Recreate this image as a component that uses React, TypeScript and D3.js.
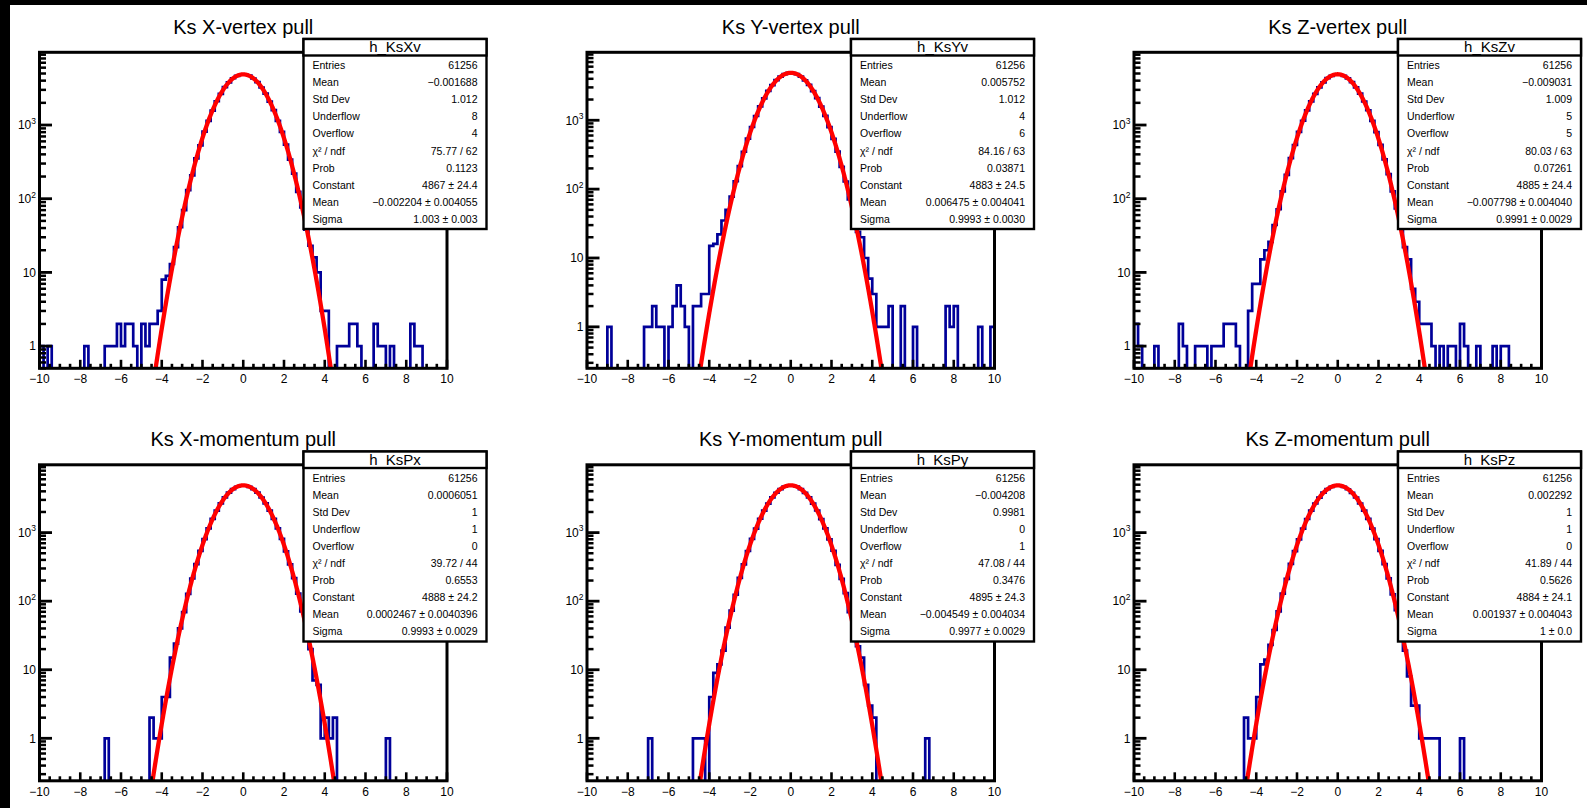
import React from "react";
import * as d3 from "d3";

// ---------- data ----------
const X_DOMAIN: [number, number] = [-10, 10];
const N_BINS = 100;

const titles = [
  "Ks X-vertex pull",
  "Ks Y-vertex pull",
  "Ks Z-vertex pull",
  "Ks X-momentum pull",
  "Ks Y-momentum pull",
  "Ks Z-momentum pull",
];
const histNames = ["h_KsXv", "h_KsYv", "h_KsZv", "h_KsPx", "h_KsPy", "h_KsPz"];

// bin contents, 100 bins of width 0.2 from -10 to 10
const countsKsXv = [
  1, 0, 1, 0, 0, 0, 0, 0, 0, 0,
  0, 1, 0, 0, 0, 0, 1, 1, 1, 2,
  1, 2, 2, 1, 0, 2, 1, 2, 2, 3,
  8, 9, 13, 22, 41, 70, 131, 208, 352, 530,
  812, 1139, 1571, 2103, 2641, 3262, 3790, 4310, 4640, 4861,
  4822, 4667, 4281, 3826, 3229, 2672, 2078, 1592, 1135, 806,
  541, 339, 219, 124, 76, 38, 23, 16, 10, 3,
  3, 0, 0, 1, 1, 1, 2, 2, 1, 0,
  0, 0, 2, 1, 1, 0, 1, 0, 0, 0,
  0, 2, 1, 1, 0, 0, 0, 0, 0, 0,
];
const countsKsYv = [
  0, 0, 0, 0, 0, 1, 0, 0, 0, 0,
  0, 0, 0, 0, 1, 1, 2, 1, 1, 0,
  1, 2, 4, 2, 1, 0, 2, 2, 3, 3,
  15, 16, 22, 35, 50, 78, 130, 215, 349, 541,
  798, 1152, 1588, 2085, 2667, 3238, 3822, 4301, 4671, 4874,
  4853, 4660, 4302, 3797, 3257, 2649, 2097, 1575, 1158, 793,
  536, 351, 210, 129, 71, 43, 24, 20, 10, 5,
  3, 1, 1, 1, 2, 0, 0, 2, 0, 0,
  1, 0, 0, 0, 0, 0, 0, 0, 2, 1,
  2, 0, 0, 0, 0, 0, 1, 0, 0, 1,
];
const countsKsZv = [
  2, 1, 0, 0, 0, 1, 0, 0, 0, 0,
  0, 2, 1, 0, 0, 1, 1, 1, 0, 1,
  1, 1, 2, 2, 2, 1, 0, 0, 3, 7,
  7, 15, 20, 26, 44, 72, 126, 211, 356, 536,
  805, 1143, 1582, 2095, 2650, 3251, 3801, 4317, 4655, 4870,
  4838, 4648, 4289, 3817, 3236, 2661, 2085, 1586, 1141, 799,
  538, 342, 215, 126, 74, 41, 22, 15, 6, 4,
  2, 2, 2, 1, 0, 1, 0, 1, 1, 0,
  2, 1, 0, 0, 1, 0, 0, 0, 1, 0,
  1, 1, 0, 0, 0, 0, 0, 0, 0, 0,
];
const countsKsPx = [
  0, 0, 0, 0, 0, 0, 0, 0, 0, 0,
  0, 0, 0, 0, 0, 0, 1, 0, 0, 0,
  0, 0, 0, 0, 0, 0, 0, 2, 1, 1,
  4, 4, 15, 24, 40, 69, 128, 214, 348, 543,
  801, 1150, 1586, 2099, 2668, 3256, 3829, 4318, 4668, 4851,
  4877, 4655, 4309, 3820, 3249, 2671, 2094, 1589, 1149, 808,
  531, 344, 217, 129, 71, 39, 20, 7, 6, 1,
  2, 1, 2, 0, 0, 0, 0, 0, 0, 0,
  0, 0, 0, 0, 0, 1, 0, 0, 0, 0,
  0, 0, 0, 0, 0, 0, 0, 0, 0, 0,
];
const countsKsPy = [
  0, 0, 0, 0, 0, 0, 0, 0, 0, 0,
  0, 0, 0, 0, 0, 1, 0, 0, 0, 0,
  0, 0, 0, 0, 0, 0, 1, 1, 1, 0,
  4, 9, 12, 19, 41, 73, 124, 219, 343, 539,
  809, 1141, 1594, 2088, 2655, 3268, 3811, 4322, 4679, 4880,
  4862, 4674, 4296, 3808, 3262, 2653, 2102, 1577, 1153, 796,
  544, 338, 212, 131, 69, 43, 22, 15, 6, 3,
  2, 0, 0, 0, 0, 0, 0, 0, 0, 0,
  0, 0, 0, 1, 0, 0, 0, 0, 0, 0,
  0, 0, 0, 0, 0, 0, 0, 0, 0, 0,
];
const countsKsPz = [
  0, 0, 0, 0, 0, 0, 0, 0, 0, 0,
  0, 0, 0, 0, 0, 0, 0, 0, 0, 0,
  0, 0, 0, 0, 0, 0, 0, 2, 1, 1,
  4, 12, 14, 23, 38, 71, 129, 212, 351, 538,
  796, 1147, 1579, 2094, 2660, 3244, 3818, 4306, 4650, 4869,
  4858, 4642, 4291, 3803, 3251, 2660, 2089, 1583, 1144, 802,
  540, 347, 215, 126, 74, 40, 19, 8, 3, 3,
  1, 1, 1, 1, 1, 0, 0, 0, 0, 0,
  1, 0, 0, 0, 0, 0, 0, 0, 0, 0,
  0, 0, 0, 0, 0, 0, 0, 0, 0, 0,
];
const allCounts = [countsKsXv, countsKsYv, countsKsZv, countsKsPx, countsKsPy, countsKsPz];

const statLabels = [
  "Entries", "Mean", "Std Dev", "Underflow", "Overflow",
  "χ² / ndf", "Prob", "Constant", "Mean", "Sigma",
];
const statsKsXv = ["61256", "−0.001688", "1.012", "8", "4", "75.77 / 62", "0.1123", "4867 ± 24.4", "−0.002204 ± 0.004055", "1.003 ± 0.003"];
const statsKsYv = ["61256", "0.005752", "1.012", "4", "6", "84.16 / 63", "0.03871", "4883 ± 24.5", "0.006475 ± 0.004041", "0.9993 ± 0.0030"];
const statsKsZv = ["61256", "−0.009031", "1.009", "5", "5", "80.03 / 63", "0.07261", "4885 ± 24.4", "−0.007798 ± 0.004040", "0.9991 ± 0.0029"];
const statsKsPx = ["61256", "0.0006051", "1", "1", "0", "39.72 / 44", "0.6553", "4888 ± 24.2", "0.0002467 ± 0.0040396", "0.9993 ± 0.0029"];
const statsKsPy = ["61256", "−0.004208", "0.9981", "0", "1", "47.08 / 44", "0.3476", "4895 ± 24.3", "−0.004549 ± 0.004034", "0.9977 ± 0.0029"];
const statsKsPz = ["61256", "0.002292", "1", "1", "0", "41.89 / 44", "0.5626", "4884 ± 24.1", "0.001937 ± 0.004043", "1 ± 0.0"];
const allStats = [statsKsXv, statsKsYv, statsKsZv, statsKsPx, statsKsPy, statsKsPz];

const fitConstant = [4867, 4883, 4885, 4888, 4895, 4884];
const fitMean = [-0.002204, 0.006475, -0.007798, 0.0002467, -0.004549, 0.001937];
const fitSigma = [1.003, 0.9993, 0.9991, 0.9993, 0.9977, 1.0];

const yMin = [0.5, 0.25, 0.5, 0.24, 0.24, 0.24];
const yMax = [9700, 9700, 9700, 9750, 9750, 9750];

const xMajorTicks = [-10, -8, -6, -4, -2, 0, 2, 4, 6, 8, 10];
const xTickLabels = ["−10", "−8", "−6", "−4", "−2", "0", "2", "4", "6", "8", "10"];
const yDecades = [1, 10, 100, 1000];
const yDecadeBase = ["1", "10", "10", "10"];
const yDecadeExp = ["", "", "2", "3"];

// ---------- layout ----------
const panelOffsetX = [0, 547.5, 1094.5];
const panelOffsetY = [0, 412.5];
const FRAME = { left: 39.5, right: 447, top: 52.3, bottom: 368.3 };
const STATS = { x: 303.5, y: 39, w: 183, h: 190, header: 16.5 };
const FONT = "'Liberation Sans', Arial, Helvetica, sans-serif";
const HIST_COLOR = "#000099";

function Panel({ idx }: { idx: number }) {
  const ox = panelOffsetX[idx % 3];
  const oy = panelOffsetY[Math.floor(idx / 3)];
  const x = d3.scaleLinear().domain(X_DOMAIN).range([FRAME.left, FRAME.right]);
  const y = d3.scaleLog().domain([yMin[idx], yMax[idx]]).range([FRAME.bottom, FRAME.top]);
  const counts = allCounts[idx];
  const bw = (X_DOMAIN[1] - X_DOMAIN[0]) / N_BINS;
  const floorVal = yMin[idx] * 0.5;

  let hd = `M${x(X_DOMAIN[0])},${y(floorVal)}`;
  counts.forEach((c, i) => {
    const v = Math.max(c, floorVal);
    const x0 = x(X_DOMAIN[0] + i * bw);
    const x1 = x(X_DOMAIN[0] + (i + 1) * bw);
    hd += `L${x0},${y(v)}L${x1},${y(v)}`;
  });
  hd += `L${x(X_DOMAIN[1])},${y(floorVal)}`;

  const A = fitConstant[idx], mu = fitMean[idx], s = fitSigma[idx];
  const fitPts = d3
    .range(X_DOMAIN[0], X_DOMAIN[1] + 1e-9, 0.01)
    .map((t) => [t, A * Math.exp(-0.5 * ((t - mu) / s) ** 2)] as [number, number])
    .filter((p) => p[1] > yMin[idx] * 0.3);
  const fitLine = d3
    .line<[number, number]>()
    .x((p) => x(p[0]))
    .y((p) => y(p[1]))(fitPts) as string;

  const xMinor = d3.range(-10, 10.001, 0.5).filter((v) => Math.abs(v / 2 - Math.round(v / 2)) > 1e-6);
  const yMinor: number[] = [];
  for (let k = -1; k <= 3; k++) {
    for (let m = 2; m <= 9; m++) {
      const v = m * Math.pow(10, k);
      if (v >= yMin[idx] && v <= yMax[idx]) yMinor.push(v);
    }
  }
  const clipId = `clip-${idx}`;

  return (
    <g transform={`translate(${ox},${oy})`}>
      <defs>
        <clipPath id={clipId}>
          <rect x={FRAME.left} y={FRAME.top} width={FRAME.right - FRAME.left} height={FRAME.bottom - FRAME.top} />
        </clipPath>
      </defs>
      <text x={x(0)} y={33.5} textAnchor="middle" fontFamily={FONT} fontSize={20} fill="#000">
        {titles[idx]}
      </text>
      <g clipPath={`url(#${clipId})`}>
        <path d={hd} fill="none" stroke={HIST_COLOR} strokeWidth={2.7} strokeLinejoin="miter" />
        <path d={fitLine} fill="none" stroke="#ff0000" strokeWidth={4.3} strokeLinejoin="round" />
      </g>
      {/* x ticks */}
      {xMajorTicks.map((v) => (
        <line key={`xM${v}`} x1={x(v)} x2={x(v)} y1={FRAME.bottom} y2={FRAME.bottom - 8.5} stroke="#000" strokeWidth={2.6} />
      ))}
      {xMinor.map((v) => (
        <line key={`xm${v}`} x1={x(v)} x2={x(v)} y1={FRAME.bottom} y2={FRAME.bottom - 4.5} stroke="#000" strokeWidth={2.6} />
      ))}
      {/* y ticks */}
      {yDecades.map((v) => (
        <line key={`yM${v}`} x1={FRAME.left} x2={FRAME.left + 12.5} y1={y(v)} y2={y(v)} stroke="#000" strokeWidth={2.8} />
      ))}
      {yMinor.map((v) => (
        <line key={`ym${v}`} x1={FRAME.left} x2={FRAME.left + 6.5} y1={y(v)} y2={y(v)} stroke="#000" strokeWidth={2.5} />
      ))}
      <rect
        x={FRAME.left}
        y={FRAME.top}
        width={FRAME.right - FRAME.left}
        height={FRAME.bottom - FRAME.top}
        fill="none"
        stroke="#000"
        strokeWidth={3}
      />
      {/* x labels */}
      {xMajorTicks.map((v, i) => (
        <text key={`xl${v}`} x={x(v)} y={FRAME.bottom + 15} textAnchor="middle" fontFamily={FONT} fontSize={12} fill="#000">
          {xTickLabels[i]}
        </text>
      ))}
      {/* y labels */}
      {yDecades.map((v, i) => (
        <text key={`yl${v}`} x={36} y={y(v) + 4.3} textAnchor="end" fontFamily={FONT} fontSize={12} fill="#000">
          {yDecadeBase[i]}
          {yDecadeExp[i] && (
            <tspan dy={-5.5} fontSize={8.5}>
              {yDecadeExp[i]}
            </tspan>
          )}
        </text>
      ))}
      {/* stats box */}
      <g>
        <rect x={STATS.x} y={STATS.y} width={STATS.w} height={STATS.h} fill="#fff" stroke="#000" strokeWidth={2.4} />
        <rect x={STATS.x} y={STATS.y} width={STATS.w} height={STATS.header} fill="#fff" stroke="#000" strokeWidth={2.4} />
        <text x={STATS.x + STATS.w / 2} y={STATS.y + 13} textAnchor="middle" fontFamily={FONT} fontSize={15} fill="#000">
          {histNames[idx]}
        </text>
        {statLabels.map((lab, i) => (
          <g key={`st${i}`}>
            <text x={STATS.x + 9} y={STATS.y + 30 + 17.1 * i} fontFamily={FONT} fontSize={10.5} fill="#000">
              {lab}
            </text>
            <text x={STATS.x + STATS.w - 9} y={STATS.y + 30 + 17.1 * i} textAnchor="end" fontFamily={FONT} fontSize={10.5} fill="#000">
              {allStats[idx][i]}
            </text>
          </g>
        ))}
      </g>
    </g>
  );
}

export default function App() {
  const W = 1587, H = 808;
  return (
    <div style={{ position: "fixed", left: 0, top: 0, width: W, height: H, overflow: "hidden" }}>
      <svg width={W} height={H} viewBox={`0 0 ${W} ${H}`} style={{ display: "block" }}>
        <rect x={0} y={0} width={W} height={H} fill="#000" />
        <rect x={10} y={5} width={W - 10} height={H - 5} fill="#fff" />
        {d3.range(6).map((i) => (
          <Panel key={i} idx={i} />
        ))}
      </svg>
    </div>
  );
}
